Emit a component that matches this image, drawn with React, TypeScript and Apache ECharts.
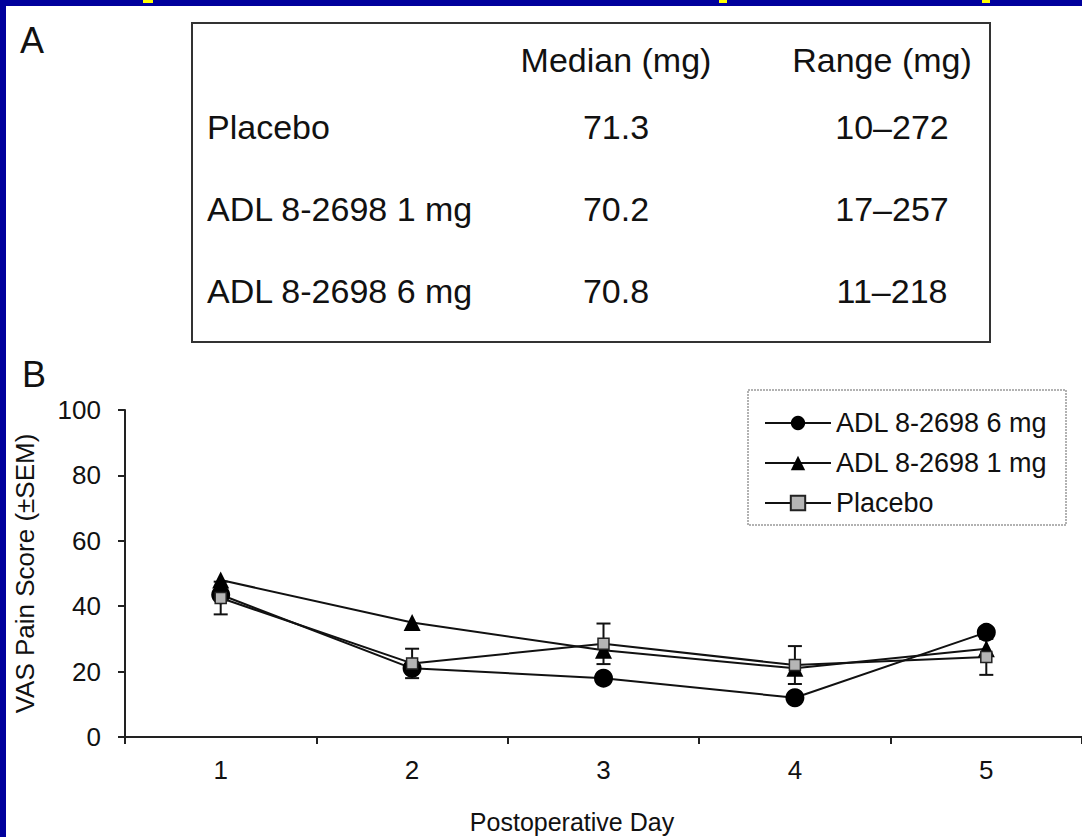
import React, { useEffect, useRef } from "react";
import * as echarts from "echarts";

const FONT = "'Liberation Sans', Arial, Helvetica, sans-serif";

// Panel B data
const days = ["1", "2", "3", "4", "5"];
const adl6mg = [43.5, 21, 18, 12, 32];
const adl1mg = [48, 35, 26.5, 21, 27];
const placebo = [42.5, 22.5, 28.5, 22, 24.5];
const placeboSem = [5, 4.5, 6.2, 5.8, 5.5];
const seriesNames = ["ADL 8-2698 6 mg", "ADL 8-2698 1 mg", "Placebo"];

// Panel A table
const tableHeaders = ["Median (mg)", "Range (mg)"];
const tableRows = ["Placebo", "ADL 8-2698 1 mg", "ADL 8-2698 6 mg"];
const tableMedians = ["71.3", "70.2", "70.8"];
const tableRanges = ["10\u2013272", "17\u2013257", "11\u2013218"];

export default function App() {
  const ref = useRef<HTMLDivElement>(null);

  useEffect(() => {
    if (!ref.current) return;
    const chart = echarts.init(ref.current, null, { renderer: "svg" });

    const rowY = [127, 209, 291];
    const txt = (text: string, x: number, y: number, size: number, align: string) => ({
      type: "text",
      x,
      y,
      style: {
        text,
        fontSize: size,
        fontFamily: FONT,
        fill: "#111",
        align,
        verticalAlign: "middle",
      },
      z: 10,
    });

    const graphic: any[] = [
      { type: "rect", shape: { x: 0, y: 0, width: 6, height: 837 }, style: { fill: "#00009c" }, z: 20 },
      { type: "rect", shape: { x: 0, y: 0, width: 1082, height: 6 }, style: { fill: "#00009c" }, z: 20 },
      { type: "rect", shape: { x: 143, y: 0, width: 10, height: 3 }, style: { fill: "#ffff00" }, z: 21 },
      { type: "rect", shape: { x: 719, y: 0, width: 8, height: 3 }, style: { fill: "#ffff00" }, z: 21 },
      { type: "rect", shape: { x: 982, y: 0, width: 8, height: 3 }, style: { fill: "#ffff00" }, z: 21 },
      // table box
      {
        type: "rect",
        shape: { x: 192, y: 23, width: 798, height: 319 },
        style: { fill: "none", stroke: "#333", lineWidth: 2 },
        z: 10,
      },
      txt("A", 20, 40, 36, "left"),
      txt("B", 22, 374, 36, "left"),
      txt(tableHeaders[0], 616, 60, 34, "center"),
      txt(tableHeaders[1], 882, 60, 34, "center"),
      ...tableRows.map((r, i) => txt(r, 207, rowY[i], 34, "left")),
      ...tableMedians.map((m, i) => txt(m, 616, rowY[i], 34, "center")),
      ...tableRanges.map((m, i) => txt(m, 892, rowY[i], 34, "center")),
      // legend box
      {
        type: "rect",
        shape: { x: 748, y: 390, width: 318, height: 135 },
        style: { fill: "none", stroke: "#999", lineWidth: 1.5, lineDash: [2, 1] },
        z: 10,
      },
      txt("Postoperative Day", 572, 822, 25, "center"),
    ];

    const errData = days.map((_, i) => [i, placebo[i] - placeboSem[i], placebo[i] + placeboSem[i]]);

    chart.setOption({
      animation: false,
      backgroundColor: "#fff",
      textStyle: { fontFamily: FONT },
      graphic,
      grid: { left: 125, right: -3, top: 410, bottom: 100, containLabel: false },
      legend: {
        data: seriesNames,
        orient: "vertical",
        left: 759,
        top: 403,
        itemWidth: 66,
        itemHeight: 18,
        itemGap: 10,
        textStyle: { fontSize: 27, color: "#111", fontFamily: FONT, lineHeight: 30 },
      },
      xAxis: {
        type: "category",
        data: days,
        boundaryGap: true,
        axisLine: { lineStyle: { color: "#222", width: 2 } },
        axisTick: { show: true, length: 7, interval: 0, lineStyle: { color: "#222", width: 2 } },
        axisLabel: { fontSize: 26, color: "#111", margin: 20, fontFamily: FONT },
        splitLine: { show: false },
      },
      yAxis: {
        type: "value",
        min: 0,
        max: 100,
        interval: 20,
        name: "VAS Pain Score (\u00b1SEM)",
        nameLocation: "middle",
        nameGap: 87,
        nameTextStyle: { fontSize: 26, color: "#111", fontFamily: FONT },
        axisLine: { show: true, lineStyle: { color: "#222", width: 2 } },
        axisTick: { show: true, length: 7, lineStyle: { color: "#222", width: 2 } },
        axisLabel: { fontSize: 26, color: "#111", margin: 24, fontFamily: FONT },
        splitLine: { show: false },
      },
      series: [
        {
          type: "custom",
          name: "Placebo SEM",
          data: errData,
          z: 1,
          renderItem: (params: any, api: any) => {
            const x = api.value(0);
            const lo = api.coord([x, api.value(1)]);
            const hi = api.coord([x, api.value(2)]);
            const w = 7;
            const style = { stroke: "#111", lineWidth: 2 };
            return {
              type: "group",
              children: [
                { type: "line", shape: { x1: lo[0], y1: lo[1], x2: hi[0], y2: hi[1] }, style },
                { type: "line", shape: { x1: lo[0] - w, y1: lo[1], x2: lo[0] + w, y2: lo[1] }, style },
                { type: "line", shape: { x1: hi[0] - w, y1: hi[1], x2: hi[0] + w, y2: hi[1] }, style },
              ],
            };
          },
        },
        {
          type: "line",
          name: seriesNames[0],
          data: adl6mg,
          symbol: "circle",
          symbolSize: 19,
          itemStyle: { color: "#000" },
          lineStyle: { color: "#111", width: 2 },
          z: 3,
        },
        {
          type: "line",
          name: seriesNames[1],
          data: adl1mg,
          symbol: "triangle",
          symbolSize: 17,
          itemStyle: { color: "#000" },
          lineStyle: { color: "#111", width: 2 },
          z: 3,
        },
        {
          type: "line",
          name: seriesNames[2],
          data: placebo,
          symbol: "rect",
          symbolSize: 11,
          itemStyle: { color: "#b5b5b5", borderColor: "#222", borderWidth: 1.5 },
          lineStyle: { color: "#111", width: 2 },
          z: 4,
        },
      ],
    });

    return () => chart.dispose();
  }, []);

  return (
    <div
      ref={ref}
      style={{ position: "fixed", left: 0, top: 0, width: 1082, height: 837, background: "#fff" }}
    />
  );
}
